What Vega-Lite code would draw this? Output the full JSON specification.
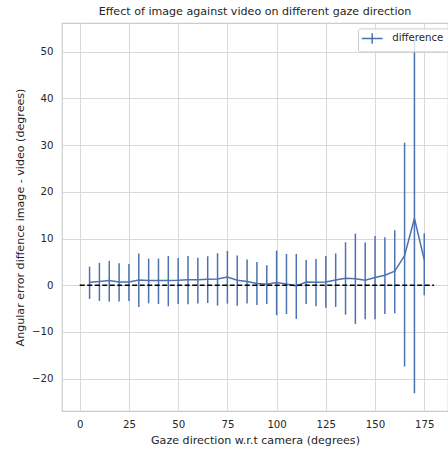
{
  "$schema": "https://vega.github.io/schema/vega-lite/v6.json",
  "width": 386,
  "height": 388,
  "autosize": {"type": "none"},
  "padding": {"left": 62, "top": 23, "right": 0, "bottom": 38},
  "background": "white",
  "config": {
    "font": "DejaVu Sans",
    "view": {"stroke": "#cccccc", "strokeWidth": 1.2},
    "axis": {
      "grid": true,
      "gridColor": "#d9d9d9",
      "gridWidth": 1,
      "domain": false,
      "ticks": false,
      "labelFont": "DejaVu Sans",
      "labelFontSize": 10.2,
      "labelColor": "#262626",
      "titleFont": "DejaVu Sans",
      "titleFontSize": 11.1,
      "titleFontWeight": "normal",
      "titleColor": "#262626"
    }
  },
  "title": {
    "text": "Effect of image against video on different gaze direction",
    "font": "DejaVu Sans",
    "fontSize": 11.1,
    "fontWeight": "normal",
    "color": "#262626",
    "anchor": "middle",
    "offset": 6
  },
  "datasets": {
    "bars": [
      {"angle": 5, "mean": 0.64, "lo": -2.93, "hi": 3.98},
      {"angle": 10, "mean": 0.78, "lo": -3.36, "hi": 4.78},
      {"angle": 15, "mean": 0.99, "lo": -3.5, "hi": 5.2},
      {"angle": 20, "mean": 0.7, "lo": -3.5, "hi": 4.7},
      {"angle": 25, "mean": 0.7, "lo": -3.36, "hi": 4.56},
      {"angle": 30, "mean": 1.13, "lo": -4.65, "hi": 6.77},
      {"angle": 35, "mean": 0.99, "lo": -3.86, "hi": 5.7},
      {"angle": 40, "mean": 0.99, "lo": -4.0, "hi": 5.7},
      {"angle": 45, "mean": 0.99, "lo": -4.5, "hi": 6.27},
      {"angle": 50, "mean": 1.06, "lo": -4.0, "hi": 5.84},
      {"angle": 55, "mean": 1.2, "lo": -4.07, "hi": 6.27},
      {"angle": 60, "mean": 1.2, "lo": -3.93, "hi": 5.9},
      {"angle": 65, "mean": 1.3, "lo": -3.8, "hi": 6.2},
      {"angle": 70, "mean": 1.35, "lo": -4.36, "hi": 6.85},
      {"angle": 75, "mean": 1.78, "lo": -3.93, "hi": 7.34},
      {"angle": 80, "mean": 1.06, "lo": -4.36, "hi": 6.34},
      {"angle": 85, "mean": 0.78, "lo": -3.93, "hi": 5.49},
      {"angle": 90, "mean": 0.36, "lo": -4.2, "hi": 4.99},
      {"angle": 95, "mean": 0.21, "lo": -4.0, "hi": 4.3},
      {"angle": 100, "mean": 0.57, "lo": -6.4, "hi": 7.42},
      {"angle": 105, "mean": 0.28, "lo": -6.15, "hi": 6.7},
      {"angle": 110, "mean": -0.14, "lo": -7.2, "hi": 6.7},
      {"angle": 115, "mean": 0.7, "lo": -4.0, "hi": 5.42},
      {"angle": 120, "mean": 0.64, "lo": -4.5, "hi": 5.6},
      {"angle": 125, "mean": 0.7, "lo": -4.8, "hi": 6.27},
      {"angle": 130, "mean": 1.13, "lo": -4.65, "hi": 6.8},
      {"angle": 135, "mean": 1.5, "lo": -6.3, "hi": 9.2},
      {"angle": 140, "mean": 1.4, "lo": -8.3, "hi": 11.05},
      {"angle": 145, "mean": 1.06, "lo": -7.28, "hi": 9.13},
      {"angle": 150, "mean": 1.64, "lo": -7.28, "hi": 10.56},
      {"angle": 155, "mean": 2.14, "lo": -6.15, "hi": 10.27},
      {"angle": 160, "mean": 3.0, "lo": -6.0, "hi": 11.77},
      {"angle": 165, "mean": 6.35, "lo": -17.4, "hi": 30.5},
      {"angle": 170, "mean": 14.27, "lo": -23.1, "hi": 52.3},
      {"angle": 175, "mean": 5.42, "lo": -2.14, "hi": 11.1}
    ],
    "zero": [{"x": 0, "x2": 180, "y": 0}]
  },
  "layer": [
    {
      "data": {"name": "bars"},
      "mark": {"type": "rule", "strokeWidth": 1.5},
      "encoding": {
        "x": {
          "field": "angle",
          "type": "quantitative",
          "scale": {"domain": [-9, 187.05], "nice": false, "zero": false},
          "axis": {
            "values": [0, 25, 50, 75, 100, 125, 150, 175],
            "title": "Gaze direction w.r.t camera (degrees)",
            "labelPadding": 8,
            "titlePadding": 5
          }
        },
        "y": {
          "field": "lo",
          "type": "quantitative",
          "scale": {"domain": [-26.9, 56.1], "nice": false, "zero": false},
          "axis": {
            "values": [-20, -10, 0, 10, 20, 30, 40, 50],
            "title": "Angular error diffence image - video (degrees)",
            "labelPadding": 9,
            "titlePadding": 6
          }
        },
        "y2": {"field": "hi"},
        "color": {
          "datum": "difference",
          "type": "nominal",
          "scale": {"domain": ["difference"], "range": ["#4c72b0"]},
          "legend": {
            "title": null,
            "orient": "none",
            "legendX": 296,
            "legendY": 5.4,
            "fillColor": "rgba(255,255,255,0.8)",
            "strokeColor": "#cccccc",
            "cornerRadius": 2,
            "padding": 4,
            "symbolType": "M-2,0H2M0,-1V1",
            "symbolSize": 110,
            "symbolStrokeWidth": 1.5,
            "symbolStrokeColor": "#4c72b0",
            "symbolFillColor": "transparent",
            "symbolOffset": 4.2,
            "labelOffset": 14,
            "labelFont": "DejaVu Sans",
            "labelFontSize": 10.2,
            "labelColor": "#262626"
          }
        }
      }
    },
    {
      "data": {"name": "bars"},
      "mark": {"type": "line", "strokeWidth": 1.5},
      "encoding": {
        "x": {"field": "angle", "type": "quantitative"},
        "y": {"field": "mean", "type": "quantitative"},
        "color": {"datum": "difference", "type": "nominal"}
      }
    },
    {
      "data": {"name": "zero"},
      "mark": {"type": "rule", "color": "black", "strokeWidth": 1.5, "strokeDash": [5, 2.5]},
      "encoding": {
        "x": {"field": "x", "type": "quantitative"},
        "x2": {"field": "x2"},
        "y": {"field": "y", "type": "quantitative"}
      }
    }
  ]
}
